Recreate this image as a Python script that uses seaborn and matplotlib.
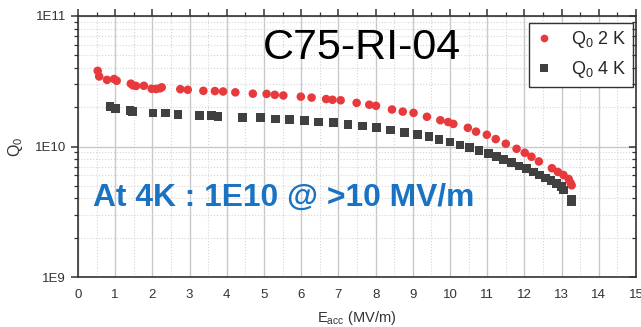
import numpy as np
import pandas as pd
import matplotlib
matplotlib.use("Agg")
import matplotlib.pyplot as plt
import seaborn as sns
from matplotlib.ticker import LogLocator, MultipleLocator, FixedLocator, NullFormatter

# ---- data ----
e_2k = [0.53, 0.57, 0.78, 0.97, 1.04, 1.42, 1.48, 1.56, 1.77, 1.98, 2.10, 2.20, 2.25,
        2.75, 2.95, 3.37, 3.68, 3.90, 4.23, 4.70, 5.07, 5.29, 5.52, 5.99, 6.28,
        6.67, 6.84, 7.06, 7.49, 7.83, 8.01, 8.44, 8.73, 9.02, 9.38, 9.74, 9.95,
        10.09, 10.48, 10.70, 10.99, 11.23, 11.50, 11.79, 12.01, 12.19, 12.39,
        12.74, 12.90, 13.05, 13.19, 13.24, 13.27]
q_2k = [3.80e10, 3.44e10, 3.24e10, 3.29e10, 3.19e10, 3.03e10, 2.94e10, 2.91e10, 2.92e10,
        2.77e10, 2.76e10, 2.79e10, 2.84e10, 2.75e10, 2.72e10, 2.67e10, 2.66e10, 2.64e10,
        2.60e10, 2.54e10, 2.53e10, 2.49e10, 2.46e10, 2.41e10, 2.37e10, 2.31e10, 2.28e10,
        2.26e10, 2.16e10, 2.09e10, 2.05e10, 1.92e10, 1.85e10, 1.81e10, 1.69e10, 1.59e10,
        1.54e10, 1.49e10, 1.39e10, 1.30e10, 1.23e10, 1.14e10, 1.05e10, 9.6e9, 8.95e9,
        8.34e9, 7.68e9, 6.82e9, 6.38e9, 6.05e9, 5.64e9, 5.26e9, 5.04e9]

e_4k = [0.86, 1.01, 1.40, 1.47, 2.02, 2.35, 2.69, 3.27, 3.59, 3.76, 4.42, 4.91, 5.31,
        5.69, 6.09, 6.47, 6.87, 7.26, 7.65, 8.03, 8.40, 8.78, 9.12, 9.43, 9.71, 10.00,
        10.27, 10.53, 10.78, 11.03, 11.25, 11.44, 11.65, 11.85, 12.06, 12.24, 12.40,
        12.57, 12.72, 12.87, 12.99, 13.05, 13.26, 13.27]
q_4k = [2.03e10, 1.95e10, 1.88e10, 1.86e10, 1.81e10, 1.80e10, 1.76e10, 1.73e10, 1.73e10,
        1.70e10, 1.67e10, 1.66e10, 1.63e10, 1.61e10, 1.58e10, 1.54e10, 1.52e10, 1.48e10,
        1.44e10, 1.40e10, 1.34e10, 1.28e10, 1.24e10, 1.19e10, 1.13e10, 1.08e10, 1.03e10,
        9.8e9, 9.3e9, 8.85e9, 8.35e9, 7.93e9, 7.52e9, 7.11e9, 6.76e9, 6.37e9, 6.04e9,
        5.73e9, 5.47e9, 5.22e9, 4.92e9, 4.64e9, 3.95e9, 3.75e9]

series_labels = ["Q$_0$ 2 K", "Q$_0$ 4 K"]
x_ticks = list(range(0, 16))
y_ticks = [1e9, 1e10, 1e11]
y_ticklabels = ["1E9", "1E10", "1E11"]
title_text = "C75-RI-04"
note_text = "At 4K : 1E10 @ >10 MV/m"

df = pd.DataFrame({
    "E": e_2k + e_4k,
    "Q": q_2k + q_4k,
    "series": [series_labels[0]] * len(e_2k) + [series_labels[1]] * len(e_4k),
})

sns.set_theme(style="white")
plt.rcParams["font.family"] = ["Liberation Sans", "DejaVu Sans"]
plt.rcParams["mathtext.fontset"] = "custom"
plt.rcParams["mathtext.rm"] = "Liberation Sans"
plt.rcParams["mathtext.it"] = "Liberation Sans"

fig = plt.figure(figsize=(6.41, 3.27), dpi=100)
ax = fig.add_axes([78 / 641, 1 - 277 / 327, (636 - 78) / 641, (277 - 16) / 327])

palette = {series_labels[0]: "#e83a3c", series_labels[1]: "#404040"}
markers = {series_labels[0]: "o", series_labels[1]: "s"}
sns.scatterplot(data=df, x="E", y="Q", hue="series", style="series",
                palette=palette, markers=markers, s=38, linewidth=0,
                ax=ax, zorder=3)

ax.set_yscale("log")
ax.set_xlim(0, 15)
ax.set_ylim(1e9, 1e11)

ax.xaxis.set_major_locator(FixedLocator(x_ticks))
ax.xaxis.set_minor_locator(MultipleLocator(0.5))
ax.yaxis.set_major_locator(FixedLocator(y_ticks))
ax.set_yticklabels(y_ticklabels)
ax.yaxis.set_minor_locator(LogLocator(base=10, subs=np.arange(2, 10)))
ax.yaxis.set_minor_formatter(NullFormatter())

ax.grid(which="major", color="#c8c8c8", linewidth=1.0, linestyle="-", zorder=0)
ax.grid(which="minor", color="#d4d4d4", linewidth=0.8, linestyle=":", zorder=0)
ax.set_axisbelow(True)

for sp in ax.spines.values():
    sp.set_color("#333333")
    sp.set_linewidth(1.2)

ax.tick_params(which="both", direction="out", colors="#333333", labelcolor="#333333",
               labelsize=9.5, top=True, right=False)
ax.tick_params(which="major", length=5, width=1.1)
ax.tick_params(which="minor", length=3, width=0.9)

# right-hand ticks point inward, as in the reference
ax_r = ax.twinx()
ax_r.set_yscale("log")
ax_r.set_ylim(ax.get_ylim())
ax_r.yaxis.set_major_locator(FixedLocator(y_ticks))
ax_r.yaxis.set_minor_locator(LogLocator(base=10, subs=np.arange(2, 10)))
ax_r.yaxis.set_major_formatter(NullFormatter())
ax_r.yaxis.set_minor_formatter(NullFormatter())
ax_r.tick_params(which="both", direction="in", colors="#333333")
ax_r.tick_params(which="major", length=5, width=1.1)
ax_r.tick_params(which="minor", length=3, width=0.9)
for sp in ax_r.spines.values():
    sp.set_visible(False)

ax.set_xlabel("E$_{acc}$ (MV/m)", fontsize=10.5, color="#333333", labelpad=6)
ax.set_ylabel("Q$_0$", fontsize=11.5, color="#333333", labelpad=7)

ax.text(0.509, 0.877, title_text, transform=ax.transAxes, fontsize=31,
        ha="center", va="center", color="black")
ax.text(0.027, 0.303, note_text, transform=ax.transAxes, fontsize=22.9,
        fontweight="bold", ha="left", va="center", color="#1a73c2")

leg = ax.legend(loc="upper right", frameon=True, fontsize=13, fancybox=False,
                borderpad=0.35, handlelength=1.0, handletextpad=1.0,
                markerscale=0.9, borderaxespad=0,
                bbox_to_anchor=(0.995, 0.973))
leg.get_frame().set_edgecolor("#333333")
leg.get_frame().set_linewidth(1.0)
leg.get_frame().set_alpha(1)

fig.savefig("out.png", dpi=100)
